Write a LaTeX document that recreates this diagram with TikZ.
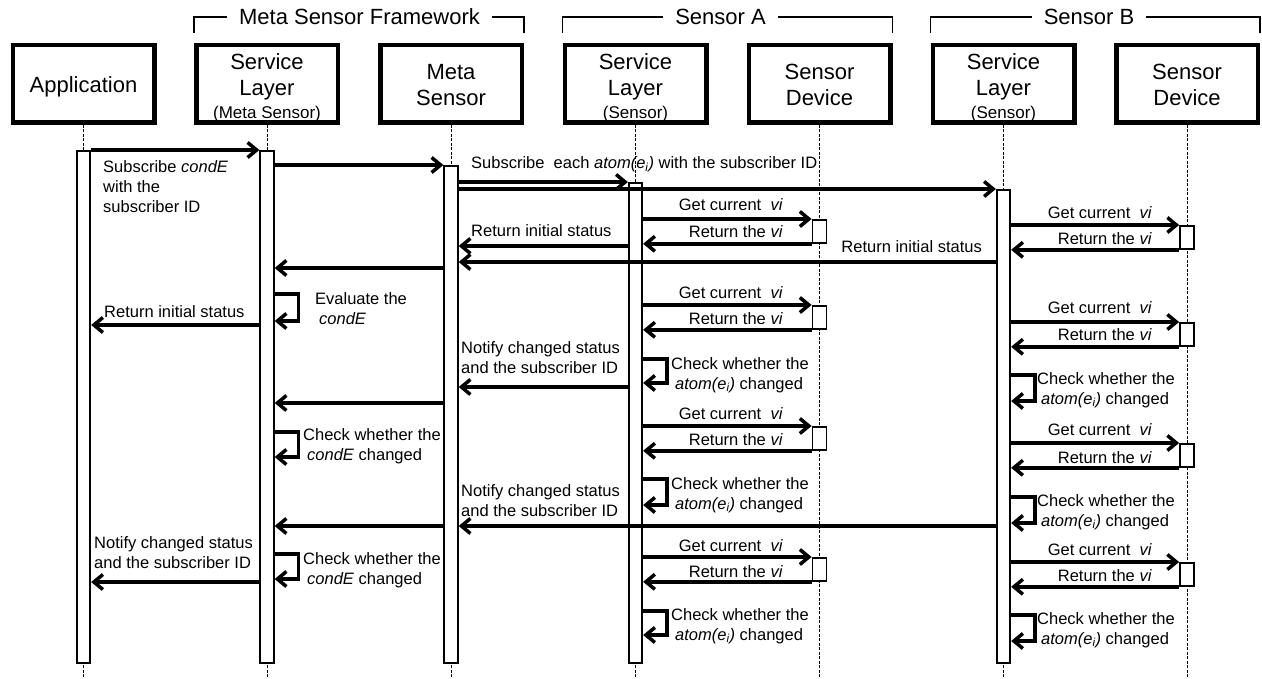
\documentclass[tikz,border=0pt]{standalone}
\usepackage{fontspec}
\setmainfont{Liberation Sans}
\usetikzlibrary{arrows.meta}
\begin{document}
\begin{tikzpicture}[x=1pt,y=-1pt,
  head/.style={draw,line width=4.5pt,minimum width=141.5pt,minimum height=77.5pt,inner sep=0pt},
  htxt/.style={anchor=base,inner sep=0pt,font=\fontsize{22}{26}\selectfont},
  hsub/.style={anchor=base,inner sep=0pt,font=\fontsize{17}{20}\selectfont},
  bar/.style={draw,fill=white,line width=1.8pt,minimum width=13.5pt,inner sep=0pt,anchor=north},
  devbox/.style={draw,fill=white,line width=1.8pt,minimum width=14pt,minimum height=23pt,inner sep=0pt,anchor=north},
  life/.style={line width=0.8pt,dash pattern=on 3pt off 1.5pt},
  msg/.style={line width=3.5pt,-{Straight Barb[length=9pt,width=15pt]}},
  lbl/.style={inner sep=0pt,align=left,anchor=base west,font=\fontsize{16.5}{20}\selectfont},
  lblr/.style={lbl,anchor=base east},
  grp/.style={line width=1.8pt},
  grplbl/.style={inner xsep=12pt,inner ysep=0pt,font=\fontsize{22}{26}\selectfont}
]
\useasboundingbox (0,0) rectangle (1262,679);

% ---------- heads ----------
\node[head] (hApp) at (83.5,84) {};
\node[head] (hSL) at (267,84) {};
\node[head] (hMS) at (451,84) {};
\node[head] (hSA) at (635.5,84) {};
\node[head] (hDA) at (819.5,84) {};
\node[head] (hSB) at (1003.5,84) {};
\node[head] (hDB) at (1187,84) {};

\node[htxt] at (83.5,93) {Application};
\node[htxt] at (267,70) {Service};
\node[htxt] at (267,96) {Layer};
\node[hsub] at (267,119) {(Meta Sensor)};
\node[htxt] at (451,80) {Meta};
\node[htxt] at (451,106) {Sensor};
\node[htxt] at (635.5,70) {Service};
\node[htxt] at (635.5,96) {Layer};
\node[hsub] at (635.5,119) {(Sensor)};
\node[htxt] at (819.5,80) {Sensor};
\node[htxt] at (819.5,106) {Device};
\node[htxt] at (1003.5,70) {Service};
\node[htxt] at (1003.5,96) {Layer};
\node[hsub] at (1003.5,119) {(Sensor)};
\node[htxt] at (1187,80) {Sensor};
\node[htxt] at (1187,106) {Device};

% ---------- groups ----------
\node[grplbl] (gMSF) at (359.5,17) {Meta Sensor Framework};
\node[grplbl] (gA) at (720.5,17) {Sensor A};
\node[grplbl] (gB) at (1089,17) {Sensor B};
\draw[grp] (hSL.west |- 0,33) |- (gMSF.west);
\draw[grp] (gMSF.east) -| (hMS.east |- 0,33);
\draw[grp] (hSA.west |- 0,33) |- (gA.west);
\draw[grp] (gA.east) -| (hDA.east |- 0,33);
\draw[grp] (hSB.west |- 0,33) |- (gB.west);
\draw[grp] (gB.east) -| (hDB.east |- 0,33);

% ---------- lifelines ----------
\draw[life] (hApp.south) -- (83.5,678);
\draw[life] (hSL.south) -- (267,678);
\draw[life] (hMS.south) -- (451,678);
\draw[life] (hSA.south) -- (635.5,678);
\draw[life] (hDA.south) -- (819.5,678);
\draw[life] (hSB.south) -- (1003.5,678);
\draw[life] (hDB.south) -- (1187,678);

% ---------- activation bars ----------
\node[bar,minimum height=512pt] (bApp) at (83.5,150) {};
\node[bar,minimum height=512pt] (bSL) at (267,150) {};
\node[bar,minimum height=497pt] (bMS) at (451,165) {};
\node[bar,minimum height=480pt] (bSA) at (635.5,182) {};
\node[bar,minimum height=473pt] (bSB) at (1003.5,189) {};

\node[devbox] (dA1) at (819.5,219) {};
\node[devbox] (dA2) at (819.5,305) {};
\node[devbox] (dA3) at (819.5,426) {};
\node[devbox] (dA4) at (819.5,557) {};
\node[devbox] (dB1) at (1187,225) {};
\node[devbox] (dB2) at (1187,322) {};
\node[devbox] (dB3) at (1187,443) {};
\node[devbox] (dB4) at (1187,562) {};

% ---------- subscribe ----------
\draw[msg] (bApp.east |- 0,150) -- (bSL.west |- 0,150);
\node[lbl] at (103,213) {Subscribe \textit{condE}\\with the\\subscriber ID};
\draw[msg] (bSL.east |- 0,165) -- (bMS.west |- 0,165);
\draw[msg] (bMS.east |- 0,182) -- (bSA.west |- 0,182);
\node[lbl] at (471,169) {Subscribe \ each \textit{atom(e\textsubscript{i})} with the subscriber ID};
\draw[msg] (bMS.east |- 0,189) -- (bSB.west |- 0,189);

% ---------- device polling (Sensor A) ----------
\draw[msg] (bSA.east |- dA1.north west) -- (dA1.north west);
\draw[msg] (dA1.south west) -- (bSA.east |- dA1.south west);
\node[lblr] at (783,211) {Get current \ \textit{vi}};
\node[lblr] at (783,238) {Return the \textit{vi}};
\draw[msg] (bSA.east |- dA2.north west) -- (dA2.north west);
\draw[msg] (dA2.south west) -- (bSA.east |- dA2.south west);
\node[lblr] at (783,299) {Get current \ \textit{vi}};
\node[lblr] at (783,325) {Return the \textit{vi}};
\draw[msg] (bSA.east |- dA3.north west) -- (dA3.north west);
\draw[msg] (dA3.south west) -- (bSA.east |- dA3.south west);
\node[lblr] at (783,419) {Get current \ \textit{vi}};
\node[lblr] at (783,445) {Return the \textit{vi}};
\draw[msg] (bSA.east |- dA4.north west) -- (dA4.north west);
\draw[msg] (dA4.south west) -- (bSA.east |- dA4.south west);
\node[lblr] at (783,551) {Get current \ \textit{vi}};
\node[lblr] at (783,577) {Return the \textit{vi}};

% ---------- device polling (Sensor B) ----------
\draw[msg] (bSB.east |- dB1.north west) -- (dB1.north west);
\draw[msg] (dB1.south west) -- (bSB.east |- dB1.south west);
\node[lblr] at (1152,219) {Get current \ \textit{vi}};
\node[lblr] at (1152,245) {Return the \textit{vi}};
\draw[msg] (bSB.east |- dB2.north west) -- (dB2.north west);
\draw[msg] (dB2.south west) -- (bSB.east |- dB2.south west);
\node[lblr] at (1152,314) {Get current \ \textit{vi}};
\node[lblr] at (1152,341) {Return the \textit{vi}};
\draw[msg] (bSB.east |- dB3.north west) -- (dB3.north west);
\draw[msg] (dB3.south west) -- (bSB.east |- dB3.south west);
\node[lblr] at (1152,435) {Get current \ \textit{vi}};
\node[lblr] at (1152,463) {Return the \textit{vi}};
\draw[msg] (bSB.east |- dB4.north west) -- (dB4.north west);
\draw[msg] (dB4.south west) -- (bSB.east |- dB4.south west);
\node[lblr] at (1152,555) {Get current \ \textit{vi}};
\node[lblr] at (1152,581) {Return the \textit{vi}};

% ---------- initial status ----------
\draw[msg] (bSA.west |- 0,246) -- (bMS.east |- 0,246);
\node[lbl] at (471,237) {Return initial status};
\draw[msg] (bSB.west |- 0,262) -- (bMS.east |- 0,262);
\node[lblr] at (982,253) {Return initial status};
\draw[msg] (bMS.west |- 0,268) -- (bSL.east |- 0,268);
\draw[msg] (bSL.east |- 0,294) -- ++(24,0) |- (bSL.east |- 0,321);
\node[lbl] at (315,324) {Evaluate the\\\hspace*{4pt}\textit{condE}};
\draw[msg] (bSL.west |- 0,325) -- (bApp.east |- 0,325);
\node[lbl] at (104,318) {Return initial status};

% ---------- first change ----------
\draw[msg] (bSA.east |- 0,359) -- ++(24,0) |- (bSA.east |- 0,383);
\node[lbl] at (671,389) {Check whether the\\\hspace*{4pt}\textit{atom(e\textsubscript{i})} changed};
\draw[msg] (bSA.west |- 0,387) -- (bMS.east |- 0,387);
\node[lbl] at (461,373) {Notify changed status\\and the subscriber ID};
\draw[msg] (bSB.east |- 0,375) -- ++(24,0) |- (bSB.east |- 0,401);
\node[lbl] at (1037,404) {Check whether the\\\hspace*{4pt}\textit{atom(e\textsubscript{i})} changed};
\draw[msg] (bMS.west |- 0,403) -- (bSL.east |- 0,403);
\draw[msg] (bSL.east |- 0,432) -- ++(24,0) |- (bSL.east |- 0,457);
\node[lbl] at (303,460) {Check whether the\\\hspace*{4pt}\textit{condE} changed};

% ---------- second change ----------
\draw[msg] (bSA.east |- 0,479) -- ++(24,0) |- (bSA.east |- 0,505);
\node[lbl] at (671,509) {Check whether the\\\hspace*{4pt}\textit{atom(e\textsubscript{i})} changed};
\draw[msg] (bSB.east |- 0,497) -- ++(24,0) |- (bSB.east |- 0,523);
\node[lbl] at (1037,526) {Check whether the\\\hspace*{4pt}\textit{atom(e\textsubscript{i})} changed};
\draw[msg] (bSB.west |- 0,526) -- (bMS.east |- 0,526);
\node[lbl] at (461,516) {Notify changed status\\and the subscriber ID};
\draw[msg] (bMS.west |- 0,526) -- (bSL.east |- 0,526);
\draw[msg] (bSL.east |- 0,554) -- ++(24,0) |- (bSL.east |- 0,579);
\node[lbl] at (303,584) {Check whether the\\\hspace*{4pt}\textit{condE} changed};
\draw[msg] (bSL.west |- 0,582) -- (bApp.east |- 0,582);
\node[lbl] at (94,568) {Notify changed status\\and the subscriber ID};

% ---------- last checks ----------
\draw[msg] (bSA.east |- 0,611) -- ++(24,0) |- (bSA.east |- 0,635);
\node[lbl] at (671,640) {Check whether the\\\hspace*{4pt}\textit{atom(e\textsubscript{i})} changed};
\draw[msg] (bSB.east |- 0,615) -- ++(24,0) |- (bSB.east |- 0,641);
\node[lbl] at (1037,644) {Check whether the\\\hspace*{4pt}\textit{atom(e\textsubscript{i})} changed};
\end{tikzpicture}
\end{document}
